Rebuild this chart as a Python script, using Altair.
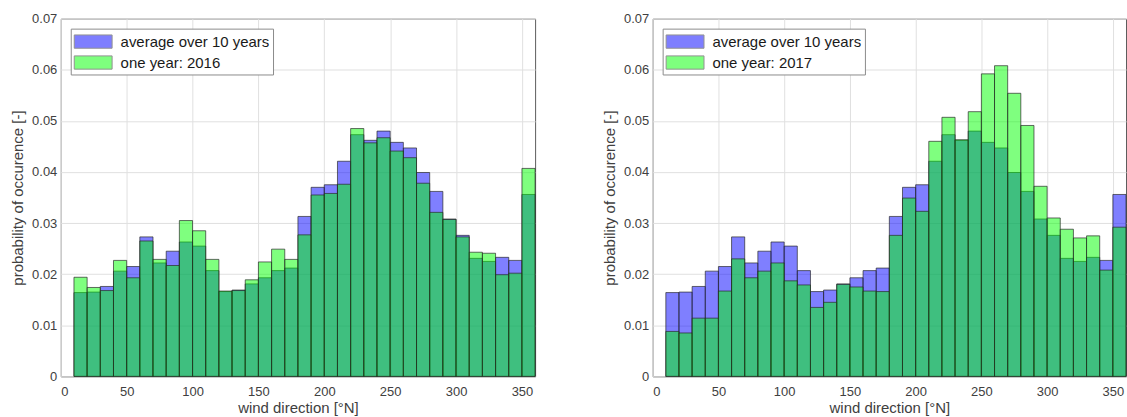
import altair as alt
import pandas as pd

# Wind direction bins (degrees from north), 10 degree wide
bin_start = list(range(10, 360, 10))

# Probability of occurrence per direction bin
avg_10yr = [0.0164, 0.0165, 0.0176, 0.0206, 0.0215, 0.0273, 0.0222, 0.0245, 0.0263, 0.0255,
            0.0207, 0.0166, 0.0169, 0.0181, 0.0193, 0.0207, 0.0212, 0.0313, 0.0370, 0.0375,
            0.0421, 0.0473, 0.0462, 0.0480, 0.0458, 0.0447, 0.0399, 0.0362, 0.0308, 0.0276,
            0.0231, 0.0225, 0.0233, 0.0227, 0.0356]
year_2016 = [0.0194, 0.0174, 0.0168, 0.0227, 0.0193, 0.0265, 0.0229, 0.0217, 0.0305, 0.0285,
             0.0229, 0.0167, 0.0168, 0.0189, 0.0224, 0.0249, 0.0229, 0.0277, 0.0355, 0.0358,
             0.0376, 0.0485, 0.0457, 0.0467, 0.0441, 0.0428, 0.0378, 0.0321, 0.0307, 0.0273,
             0.0243, 0.0241, 0.0199, 0.0202, 0.0407]
year_2017 = [0.0088, 0.0085, 0.0114, 0.0114, 0.0167, 0.0230, 0.0193, 0.0206, 0.0222, 0.0187,
             0.0179, 0.0135, 0.0145, 0.0180, 0.0175, 0.0167, 0.0166, 0.0276, 0.0349, 0.0323,
             0.0460, 0.0507, 0.0463, 0.0518, 0.0592, 0.0608, 0.0554, 0.0491, 0.0372, 0.0310,
             0.0288, 0.0271, 0.0275, 0.0208, 0.0292]

avg_name = "average over 10 years"
x_ticks = [0, 50, 100, 150, 200, 250, 300, 350]
y_ticks = [0, 0.01, 0.02, 0.03, 0.04, 0.05, 0.06, 0.07]
bar_colors = ["#0000ff", "#00ff00"]

# Wide legend swatch; the path is shifted right so the swatch starts at the entry's left edge
swatch_path = "M-1,-0.7L3,-0.7L3,0.7L-1,0.7Z"


def panel(year_name, year_values, width):
    rows = []
    for name, values in [(avg_name, avg_10yr), (year_name, year_values)]:
        for b, v in zip(bin_start, values):
            rows.append({"start": b, "end": b + 10, "p": v, "series": name})
    df = pd.DataFrame(rows)

    legend = alt.Legend(
        title=None,
        orient="top-left",
        offset=10,
        fillColor="white",
        strokeColor="#8c8c8c",
        padding=3,
        cornerRadius=0,
        symbolType=swatch_path,
        symbolSize=361,
        symbolOpacity=0.5,
        symbolStrokeColor="#262626",
        symbolStrokeWidth=1,
        labelFontSize=15,
        labelColor="#1a1a1a",
        labelOffset=27,
        rowPadding=2,
    )

    return (
        alt.Chart(df)
        .mark_bar(fillOpacity=0.5, stroke="#262626", strokeWidth=0.8, strokeOpacity=0.85)
        .encode(
            x=alt.X(
                "start:Q",
                scale=alt.Scale(domain=[0, 360], nice=False, zero=False),
                axis=alt.Axis(values=x_ticks, title="wind direction [°N]"),
            ),
            x2="end:Q",
            y=alt.Y(
                "p:Q",
                stack=False,
                scale=alt.Scale(domain=[0, 0.07], nice=False),
                axis=alt.Axis(values=y_ticks, format="~g", title="probability of occurence [-]"),
            ),
            y2=alt.datum(0),
            color=alt.Color(
                "series:N",
                scale=alt.Scale(domain=[avg_name, year_name], range=bar_colors),
                legend=legend,
            ),
        )
        .properties(width=width, height=359)
    )


left = panel("one year: 2016", year_2016, 476)
right = panel("one year: 2017", year_2017, 475)

chart = (
    alt.hconcat(left, right, spacing=66)
    .resolve_scale(color="independent")
    .resolve_legend(color="independent")
    .properties(padding={"left": 10, "top": 11, "right": 0, "bottom": 0})
    .configure(font="Liberation Sans", background="white")
    .configure_view(stroke="#5c5c5c", strokeWidth=1)
    .configure_axis(
        domain=False,
        ticks=False,
        tickSize=0,
        grid=True,
        gridColor="#e0e0e0",
        gridWidth=1,
        labelFontSize=13,
        labelColor="#404040",
        labelPadding=5,
        titleFontSize=15,
        titleFontWeight="normal",
        titleColor="#404040",
    )
    .configure_axisX(labelPadding=9, titlePadding=2)
    .configure_axisY(labelPadding=4, titlePadding=6)
)

chart.save("out.html", embed_options={"renderer": "svg", "actions": False})
